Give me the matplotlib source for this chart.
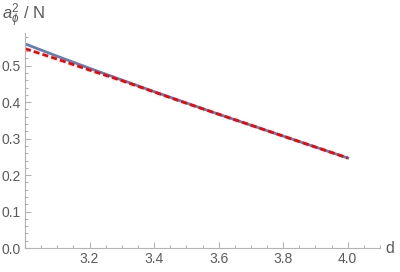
import matplotlib.pyplot as plt
from matplotlib.ticker import MultipleLocator

d = [3.0, 3.1, 3.2, 3.3, 3.4, 3.5, 3.6, 3.7, 3.8, 3.9, 4.0]
exact = [0.560, 0.526, 0.493, 0.461, 0.429, 0.398, 0.367, 0.337, 0.307, 0.277, 0.247]
approx = [0.547, 0.518, 0.488, 0.459, 0.428, 0.397, 0.367, 0.337, 0.307, 0.277, 0.247]

grey = '#b3b3b3'
text_grey = '#5a5a5a'
plt.rcParams['font.family'] = ['Liberation Sans', 'DejaVu Sans']
plt.rcParams['mathtext.fontset'] = 'custom'
plt.rcParams['mathtext.rm'] = 'Liberation Sans'
plt.rcParams['mathtext.it'] = 'Liberation Sans:italic'

fig = plt.figure(figsize=(4, 2.72), dpi=100)
ax = fig.add_axes([0.0625, 0.088, 0.8875, 0.791])

ax.plot(d, exact, color='#5e81b5', lw=2.0)
ax.plot(d, approx, color='red', lw=2.0, ls=(0, (2.2, 1.1)))

ax.set_xlim(3.0, 4.1)
ax.set_ylim(0, 0.59)

for s in ['top', 'right']:
    ax.spines[s].set_visible(False)
for s in ['left', 'bottom']:
    ax.spines[s].set_color(grey)
    ax.spines[s].set_linewidth(0.8)

ax.xaxis.set_major_locator(MultipleLocator(0.2))
ax.xaxis.set_minor_locator(MultipleLocator(0.05))
ax.yaxis.set_major_locator(MultipleLocator(0.1))
ax.yaxis.set_minor_locator(MultipleLocator(0.02))
ax.set_xticks([3.2, 3.4, 3.6, 3.8, 4.0])
ax.tick_params(which='both', direction='in', color=grey, labelcolor=text_grey,
               labelsize=10, width=0.8)
ax.tick_params(which='major', length=4, pad=3)
ax.tick_params(which='minor', length=2)
ax.xaxis.set_major_formatter(plt.FormatStrFormatter('%.1f'))
ax.yaxis.set_major_formatter(plt.FormatStrFormatter('%.1f'))

fig.text(0.975, 0.088, 'd', color=text_grey, fontsize=11.5, ha='center', va='center')
fig.text(0.005, 0.94, r'$a_\phi^2$ / N', color=text_grey, fontsize=12, ha='left', va='center')

fig.savefig('out.png', dpi=100)
